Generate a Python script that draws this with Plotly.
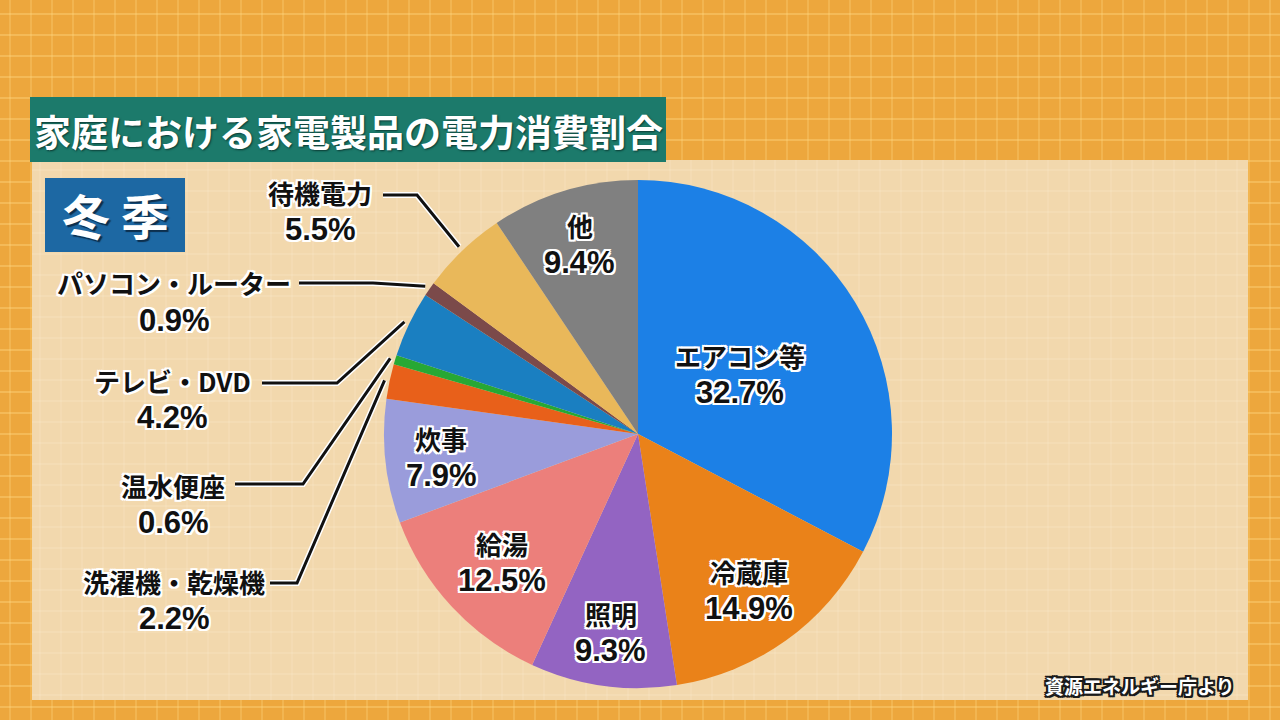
import math
import plotly.graph_objects as go

# ---------------- data ----------------
labels = ["エアコン等", "冷蔵庫", "照明", "給湯", "炊事", "洗濯機・乾燥機",
          "温水便座", "テレビ・DVD", "パソコン・ルーター", "待機電力", "他"]
values = [32.7, 14.9, 9.3, 12.5, 7.9, 2.2, 0.6, 4.2, 0.9, 5.5, 9.4]
colors = ["#1c80e6", "#ea8219", "#9364c2", "#ec7f7b", "#9a9cdb", "#e8601a",
          "#27a834", "#1a7fc1", "#7b4a4a", "#e9b85a", "#808080"]

title_text = "家庭における家電製品の電力消費割合"
season_text = "冬 季"
source_text = "資源エネルギー庁より"

# ---------------- layout constants ----------------
W, H = 1280, 720
CX, CY, R = 638, 434, 254
FONT = "Noto Sans CJK JP"
NUM_FONT = "Liberation Sans"

def fx(x):
    return x / W

def fy(y):
    return 1 - y / H

# inside label radial fraction (others get a leader line)
inside_r = {"エアコン等": 0.47, "冷蔵庫": 0.75, "照明": 0.78, "給湯": 0.73,
            "炊事": 0.78, "他": 0.79}
# outside labels: label centre, line start, elbow (pixels)
outside = {
    "待機電力": ((320, 210), (383, 195), (417, 195)),
    "パソコン・ルーター": ((174, 300), (299, 283), (373, 283)),
    "テレビ・DVD": ((172, 397), (262, 383), (337, 383)),
    "温水便座": ((173, 502), (235, 484), (303, 484)),
    "洗濯機・乾燥機": ((174, 598), (270, 583), (297, 583)),
}

def outline(color, d=2):
    pts = [(d, 0), (-d, 0), (0, d), (0, -d), (d, d), (-d, -d), (d, -d), (-d, d)]
    return ", ".join(f"{dx}px {dy}px 0 {color}" for dx, dy in pts)

white_outline = outline("#ffffff", 2)
dark_outline = outline("#1a1a1a", 2)

fig = go.Figure()
fig.add_trace(go.Pie(
    labels=labels, values=values, sort=False, direction="clockwise", rotation=0,
    marker=dict(colors=colors, line=dict(width=0)),
    textinfo="none", hoverinfo="skip", showlegend=False,
    domain=dict(x=[fx(CX - R), fx(CX + R)], y=[fy(CY + R), fy(CY - R)]),
))

shapes = []
annotations = []

# background plaid
for y in range(14, H, 21):
    shapes.append(dict(type="line", xref="paper", yref="paper", x0=0, x1=1, y0=fy(y), y1=fy(y),
                       line=dict(color="rgba(255,214,130,0.4)", width=2), layer="below"))
for x in range(10, W, 21):
    shapes.append(dict(type="line", xref="paper", yref="paper", x0=fx(x), x1=fx(x), y0=0, y1=1,
                       line=dict(color="rgba(255,214,130,0.3)", width=2), layer="below"))
# panel
shapes.append(dict(type="rect", xref="paper", yref="paper", x0=fx(32), x1=fx(1248),
                   y0=fy(700), y1=fy(160), fillcolor="#f2d8ad", line=dict(width=0), layer="below"))
for y in range(170, 700, 21):
    shapes.append(dict(type="line", xref="paper", yref="paper", x0=fx(32), x1=fx(1248), y0=fy(y), y1=fy(y),
                       line=dict(color="rgba(255,240,215,0.35)", width=1), layer="below"))
for x in range(40, 1248, 21):
    shapes.append(dict(type="line", xref="paper", yref="paper", x0=fx(x), x1=fx(x), y0=fy(700), y1=fy(160),
                       line=dict(color="rgba(255,240,215,0.3)", width=1), layer="below"))
# title bar
shapes.append(dict(type="rect", xref="paper", yref="paper", x0=fx(30), x1=fx(666),
                   y0=fy(162), y1=fy(97), fillcolor="#1c7a6b", line=dict(width=0), layer="below"))
# season box
shapes.append(dict(type="rect", xref="paper", yref="paper", x0=fx(45), x1=fx(185),
                   y0=fy(252), y1=fy(178), fillcolor="#1d68a3", line=dict(width=0), layer="below"))

annotations.append(dict(text=title_text, xref="paper", yref="paper", x=fx(348), y=fy(131),
                        showarrow=False, xanchor="center", yanchor="middle",
                        font=dict(family=FONT, size=37, color="white", weight=700,
                                  shadow="1px 1px 2px #0b3a33")))
annotations.append(dict(text=season_text, xref="paper", yref="paper", x=fx(115), y=fy(214),
                        showarrow=False, xanchor="center", yanchor="middle",
                        font=dict(family=FONT, size=48, color="white", weight=700,
                                  shadow="2px 2px 1px #0d2f4d")))
annotations.append(dict(text=source_text, xref="paper", yref="paper", x=fx(1140), y=fy(685),
                        showarrow=False, xanchor="center", yanchor="middle",
                        font=dict(family=FONT, size=19, color="white", weight=700,
                                  shadow=dark_outline)))


def add_label(x, y, name, pct):
    annotations.append(dict(text=name, xref="paper", yref="paper", x=fx(x), y=fy(y - 17),
                            showarrow=False, xanchor="center", yanchor="middle", borderpad=0,
                            font=dict(family=FONT, size=26, color="#111111", weight=700,
                                      shadow=white_outline)))
    annotations.append(dict(text=pct, xref="paper", yref="paper", x=fx(x), y=fy(y + 20),
                            showarrow=False, xanchor="center", yanchor="middle", borderpad=0,
                            font=dict(family=NUM_FONT, size=31, color="#111111", weight=700,
                                      shadow=white_outline)))


total = sum(values)
cum = 0.0
for lab, v in zip(labels, values):
    mid = math.radians((cum + v / 2) / total * 360)
    cum += v
    pct = f"{v:.1f}%"
    if lab in inside_r:
        rr = inside_r[lab] * R
        px = CX + rr * math.sin(mid)
        py = CY - rr * math.cos(mid)
        add_label(px, py, lab, pct)
    else:
        (lx, ly), (sx, sy), (ex, ey) = outside[lab]
        re = R * 1.02
        tx = CX + re * math.sin(mid)
        ty = CY - re * math.cos(mid)
        path = f"M {fx(sx)},{fy(sy)} L {fx(ex)},{fy(ey)} L {fx(tx)},{fy(ty)}"
        shapes.append(dict(type="path", xref="paper", yref="paper", path=path,
                           line=dict(color="white", width=6)))
        shapes.append(dict(type="path", xref="paper", yref="paper", path=path,
                           line=dict(color="#111111", width=3)))
        add_label(lx, ly, lab, pct)

fig.update_layout(
    width=W, height=H, margin=dict(l=0, r=0, t=0, b=0),
    paper_bgcolor="#eda73d", plot_bgcolor="#eda73d",
    shapes=shapes, annotations=annotations,
)
fig.write_html("out.html")
